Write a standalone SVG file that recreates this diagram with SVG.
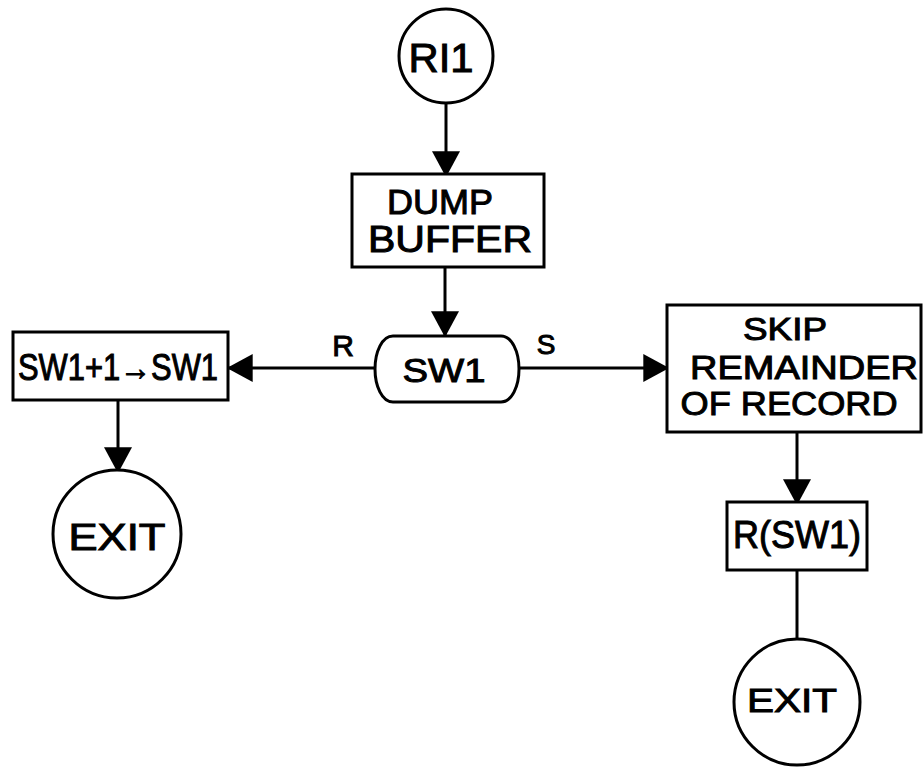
<svg xmlns="http://www.w3.org/2000/svg" width="924" height="767" viewBox="0 0 924 767">
<style>
.shape{fill:#fff;stroke:#000;stroke-width:3}
.edge{fill:none;stroke:#000;stroke-width:3}
.t{font-family:"Liberation Sans",Arial,sans-serif;fill:#000;text-anchor:middle;stroke:#000;stroke-width:1}
</style>
<defs>
<marker id="arr" markerUnits="userSpaceOnUse" markerWidth="28" markerHeight="28" viewBox="0 0 24 26" refX="22" refY="13" orient="auto">
<path d="M0,0 L24,13 L0,26 Z" fill="#000"/>
</marker>
</defs>
<rect width="924" height="767" fill="#fff"/>
<g id="connectors">
<line class="edge" x1="446" y1="103" x2="446" y2="175" marker-end="url(#arr)"/>
<line class="edge" x1="445" y1="267" x2="445" y2="335" marker-end="url(#arr)"/>
<line class="edge" x1="375" y1="368" x2="229" y2="368" marker-end="url(#arr)"/>
<line class="edge" x1="519" y1="368" x2="667" y2="368" marker-end="url(#arr)"/>
<line class="edge" x1="118" y1="400" x2="118" y2="471" marker-end="url(#arr)"/>
<line class="edge" x1="797" y1="432" x2="797" y2="503" marker-end="url(#arr)"/>
<line class="edge" x1="797" y1="570" x2="797" y2="639"/>
<text class="t" x="343" y="356" font-size="30">R</text>
<text class="t" x="546" y="354" font-size="28">S</text>
</g>
<g id="ri1">
<circle class="shape" cx="446" cy="56" r="47"/>
<text class="t" x="441" y="72" font-size="40" textLength="65" lengthAdjust="spacingAndGlyphs">RI1</text>
</g>
<g id="dump">
<rect class="shape" x="352" y="174" width="192" height="93"/>
<text class="t" x="440" y="214" font-size="35" textLength="106" lengthAdjust="spacingAndGlyphs">DUMP</text>
<text class="t" x="450" y="252" font-size="36" textLength="164" lengthAdjust="spacingAndGlyphs">BUFFER</text>
</g>
<g id="sw1">
<path class="shape" d="M393,336 L501,336 C512,336 519,352 519,369 C519,386 512,402 501,402 L393,402 C382,402 375,386 375,369 C375,352 382,336 393,336 Z"/>
<text class="t" x="444" y="382" font-size="34" textLength="83" lengthAdjust="spacingAndGlyphs">SW1</text>
</g>
<g id="incr">
<rect class="shape" x="13" y="332" width="215" height="68"/>
<text class="t" x="118" y="380" font-size="36" textLength="200" lengthAdjust="spacingAndGlyphs">SW1+1→SW1</text>
</g>
<g id="exit1">
<circle class="shape" cx="117" cy="534" r="64"/>
<text class="t" x="117" y="550" font-size="36" textLength="97" lengthAdjust="spacingAndGlyphs">EXIT</text>
</g>
<g id="skip">
<rect class="shape" x="667" y="305" width="254" height="127"/>
<text class="t" x="785" y="340" font-size="31" textLength="84" lengthAdjust="spacingAndGlyphs">SKIP</text>
<text class="t" x="804" y="379" font-size="33" textLength="228" lengthAdjust="spacingAndGlyphs">REMAINDER</text>
<text class="t" x="789" y="415" font-size="34" textLength="217" lengthAdjust="spacingAndGlyphs">OF RECORD</text>
</g>
<g id="rsw1">
<rect class="shape" x="727" y="502" width="140" height="68"/>
<text class="t" x="797" y="548" font-size="38" textLength="128" lengthAdjust="spacingAndGlyphs">R(SW1)</text>
</g>
<g id="exit2">
<circle class="shape" cx="797" cy="702" r="63"/>
<text class="t" x="792" y="712" font-size="34" textLength="90" lengthAdjust="spacingAndGlyphs">EXIT</text>
</g>
</svg>
